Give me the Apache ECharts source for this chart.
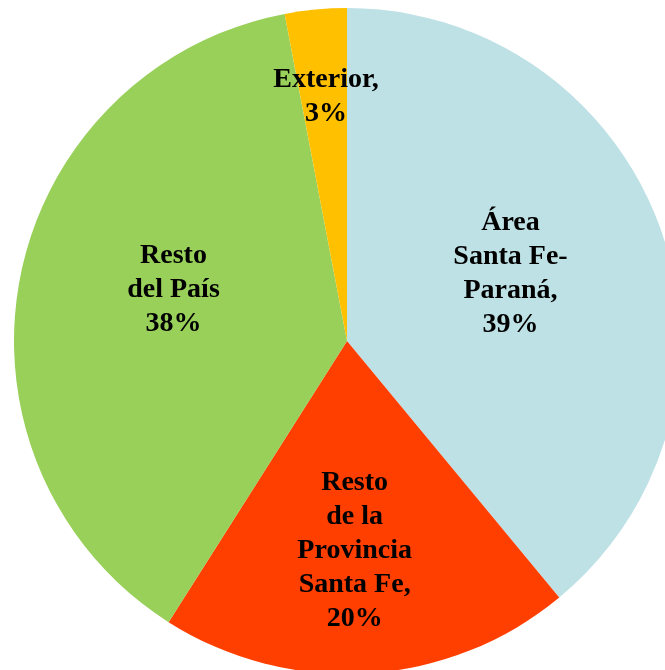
<!DOCTYPE html>
<html>
<head>
<meta charset="utf-8">
<script src="https://cdn.jsdelivr.net/npm/echarts@6/dist/echarts.min.js"></script>
<style>
  html, body { margin: 0; padding: 0; background: #fff; }
  #chart { width: 665px; height: 670px; }
</style>
</head>
<body>
<div id="chart"></div>
<script>
// origen de los estudiantes
const names = ['Área\nSanta Fe-\nParaná,', 'Resto\nde la\nProvincia\nSanta Fe,', 'Resto\ndel País', 'Exterior,']
const values = [39, 20, 38, 3]
const colors = ['#bee1e5', '#ff3f00', '#98d05a', '#ffc000']

// desplazamiento de cada etiqueta respecto a la posicion 'inside'
const labelOffsets = [[4, -10], [-3, 41], [-7, -19], [-5, -75]]

const chart = echarts.init(document.getElementById('chart'))

chart.setOption({
  animation: false,
  series: [{
    type: 'pie',
    center: [347, 341],
    radius: 333,
    startAngle: 90,
    clockwise: true,
    silent: true,
    itemStyle: { borderWidth: 0 },
    label: {
      show: true,
      position: 'inside',
      color: '#000',
      fontFamily: '"Liberation Serif", "Times New Roman", serif',
      fontWeight: 'bold',
      fontSize: 28,
      lineHeight: 34,
      align: 'center',
      formatter: p => p.name + '\n' + p.value + '%'
    },
    labelLine: { show: false },
    data: names.map((name, i) => ({
      name,
      value: values[i],
      itemStyle: { color: colors[i] },
      label: { offset: labelOffsets[i] }
    }))
  }]
})
</script>
</body>
</html>
